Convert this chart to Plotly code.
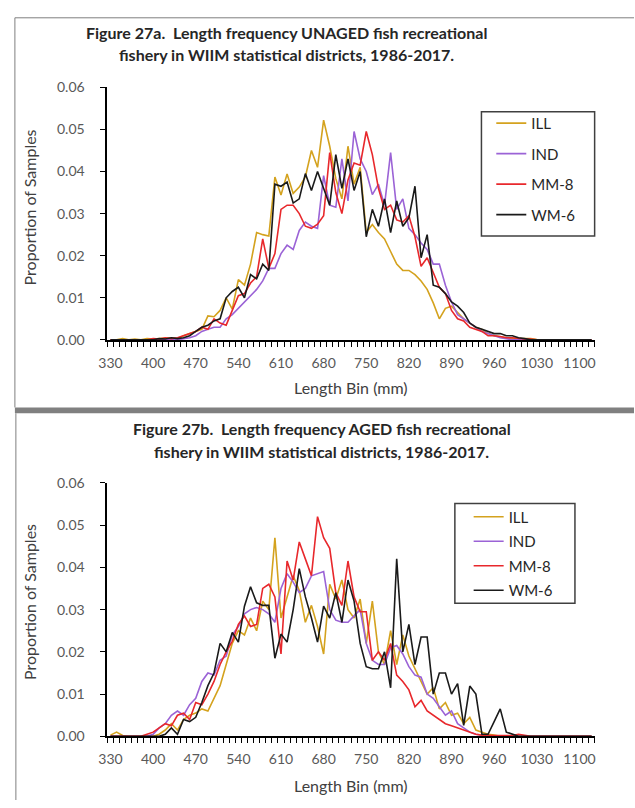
import plotly.graph_objects as go

# Length bins (mm), 10 mm wide
length_bins = list(range(330, 1130, 10))
x_ticks = list(range(330, 1101, 70))

def pad(start, vals):
    """Place values (in 0.001 units) starting at bin `start`; zeros elsewhere."""
    out = [0.0] * len(length_bins)
    i0 = length_bins.index(start)
    for k, v in enumerate(vals):
        out[i0 + k] = v / 1000.0
    return out

# ---- Figure 27a: UNAGED fish ----
ill_unaged = pad(330, [0, 0, 0.3, 0, 0.2, 0, 0.3, 0.2, 0.3, 0.4, 0.5, 0.3,
                       1.0, 1.5, 2.0, 2.5, 5.7, 5.5, 7, 10, 7.3, 14.3, 13, 18, 25.5, 25, 24.7,
                       38.7, 34.4, 39.4, 34.8, 36.3, 38.7, 45, 41, 52.2, 46, 38.3, 33.5, 46, 37,
                       41, 25.5, 27.4, 25.5, 24, 21, 18, 16.5, 16.5, 15.5, 14, 12, 8.8, 5,
                       7.5, 8, 6.5, 5, 4, 3, 2.5, 1.5, 1, 0.7, 0.5, 0.3, 0.3, 0.2, 0.3, 0.1])
ind_unaged = pad(450, [0.3, 0.5, 1, 2, 2.5, 3, 3, 5, 6, 7.5, 9, 10.5, 12, 14, 17, 17, 20.5,
                       22.5, 21.5, 26, 28, 27, 26.5, 39, 32, 31.5, 43, 33, 49.5, 43, 40, 34.5,
                       37, 32, 44.5, 31, 33.5, 26.5, 25, 23, 21.5, 18, 18, 13, 9, 6, 5, 4, 3,
                       2, 1.5, 1, 0.5, 0.3])
mm8_unaged = pad(400, [0.3, 0.2, 0.5, 0.3, 0.5,
                       1, 1.5, 2, 3, 2.5, 5, 4, 3.5, 7, 10.5, 11, 13.5, 15, 24, 17, 20.5, 31,
                       32, 32, 30, 27, 26.5, 27.5, 29.5, 44.5, 35, 30, 38, 42, 41.5, 49.5, 44,
                       36, 31, 32, 28.5, 28, 29.5, 24.5, 17.5, 19.5, 16, 12.5, 11, 7, 5, 4.5,
                       3, 2.5, 2, 1, 1, 0.8, 0.5, 0.5, 0.3, 0.2, 0.2])
wm6_unaged = pad(410, [0.3, 0.2, 0.5, 0.3,
                       0.5, 1, 2, 3, 3.5, 4.5, 5, 10, 11.5, 12.5, 10, 15.5, 14.5, 18, 16.5,
                       37, 36.5, 37.5, 32.5, 33.5, 39.5, 35.5, 40, 36, 32, 44, 36, 43, 35.5,
                       40, 24.5, 31, 27, 33.5, 25.5, 33, 27, 29, 36.5, 19.5, 25, 13, 12.5,
                       11, 9, 8, 6.5, 4, 3, 2.5, 2, 1.5, 1.5, 1, 1, 0.5, 0.3])

# ---- Figure 27b: AGED fish ----
ill_aged = pad(330, [0.3, 1.0, 0.2, 0, 0, 0, 0, 0, 0.5, 1.5, 3, 1.5, 4, 5, 5.5, 6.5, 6, 9,
                     12, 17, 22, 25, 24, 28, 25, 32, 30, 47, 28, 33, 38, 34.5, 27, 31, 26,
                     19.5, 36, 32.5, 37, 30, 28, 32.5, 22, 32, 20, 17, 25, 17, 24, 19, 16,
                     13, 10, 11.5, 6.5, 8, 5, 5.5, 3, 4.5, 1.5, 1, 0.5, 0.3])
ind_aged = pad(400, [0.5, 2, 3, 5, 6, 5, 7.5, 9, 13, 15, 14.5, 18, 19, 24, 26, 29, 30, 30.5,
                     30, 29, 27, 35, 38.5, 36.5, 34, 35, 38, 38.5, 39, 30, 27.5, 27, 27, 28.5,
                     30, 22, 18, 17, 17, 21, 21.5, 19.5, 16.5, 14.5, 14, 10, 9, 7, 5, 6, 3,
                     2, 1, 0.5, 0.3])
mm8_aged = pad(390, [0.5, 1, 2, 3, 2.5, 5, 5.5, 4, 8, 7.5, 10, 13, 17, 20, 22.5, 26.5, 28.5,
                     26, 26.5, 35, 36, 33, 19.5, 41.5, 37, 46, 42, 38, 52, 47, 44.5, 34, 31,
                     41.5, 33, 29.5, 29.5, 18, 20, 18, 22, 14.5, 13, 11, 7, 8.5, 6, 5, 4, 3,
                     2.5, 2, 1.5, 1, 0.5, 0.3, 0.2, 0.2, 0.2, 0.2, 0.2, 0.5, 0.2])
wm6_aged = pad(420, [0.5, 2, 0.5, 4, 3.5, 4.5, 8, 12, 15, 22, 20, 24.6, 22.3, 30.8, 35.4,
                     31.6, 31, 31, 18.5, 24.2, 22.3, 30, 39.7, 33, 28, 22.3, 30.8, 28, 34,
                     27, 37, 32, 22, 16.5, 16, 16, 20, 11.5, 42, 20, 26.5, 17, 23.5,
                     23.5, 10, 15, 15, 10, 12.5, 2.6, 11.9, 10, 0.5, 0.5, 3.5, 6.5, 1, 0.5])

series_names = ["ILL", "IND", "MM-8", "WM-6"]
series_colors = ["#D4A21E", "#9B63D6", "#E8282C", "#1A1A1A"]
panel_a = [ill_unaged, ind_unaged, mm8_unaged, wm6_unaged]
panel_b = [ill_aged, ind_aged, mm8_aged, wm6_aged]

W, H = 635, 808
FONT = "Lato"

def py(px):
    return 1 - px / H

def pxx(px):
    return px / W

fig = go.Figure()

for i, (name, color) in enumerate(zip(series_names, series_colors)):
    fig.add_trace(go.Scatter(x=length_bins, y=panel_a[i], name=name, mode="lines",
                             line=dict(color=color, width=1.6),
                             xaxis="x", yaxis="y", legend="legend",
                             legendgroup=f"a{i}"))
for i, (name, color) in enumerate(zip(series_names, series_colors)):
    fig.add_trace(go.Scatter(x=length_bins, y=panel_b[i], name=name, mode="lines",
                             line=dict(color=color, width=1.6),
                             xaxis="x2", yaxis="y2", legend="legend2",
                             legendgroup=f"b{i}"))

tick_font = dict(family=FONT, size=14, color="#595959")
axis_title_font = dict(family=FONT, size=16, color="#404040")

common_x = dict(range=[325, 1125], tickmode="array", tickvals=x_ticks,
                ticktext=[str(t) for t in x_ticks], ticks="", showline=True,
                linecolor="black", linewidth=2, tickfont=tick_font, showgrid=False,
                zeroline=False, ticklabelstandoff=9,
                minor=dict(tickmode="linear", tick0=325, dtick=10, ticks="outside",
                           ticklen=5, tickwidth=1, tickcolor="black"))
common_y = dict(range=[0, 0.06], dtick=0.01, tickformat=".2f", ticks="outside",
                ticklen=5, tickwidth=1, tickcolor="black", showline=True,
                linecolor="black", linewidth=2, tickfont=tick_font, showgrid=False,
                zeroline=False, ticklabelstandoff=13)

legend_font = dict(family=FONT, size=15, color="#262626")

xdom = [pxx(100), pxx(595)]
fig.update_layout(
    width=W, height=H, margin=dict(l=0, r=0, t=0, b=0),
    paper_bgcolor="white", plot_bgcolor="white",
    xaxis=dict(domain=xdom, anchor="y", **common_x),
    yaxis=dict(domain=[py(338), py(80)], anchor="x", **common_y),
    xaxis2=dict(domain=xdom, anchor="y2", **common_x),
    yaxis2=dict(domain=[py(743), py(484)], anchor="x2", **common_y),
    legend=dict(x=pxx(490), y=py(100), xanchor="left", yanchor="top",
                borderwidth=0, bgcolor="rgba(0,0,0,0)",
                font=legend_font, tracegroupgap=8, itemwidth=30),
    legend2=dict(x=pxx(467), y=py(502), xanchor="left", yanchor="top",
                 borderwidth=0, bgcolor="rgba(0,0,0,0)",
                 font=legend_font, tracegroupgap=2, itemwidth=30),
    showlegend=True,
)

title_font = dict(family=FONT, size=16, color="#262626")
annotations = [
    dict(text="<b>Figure 27a.  Length frequency UNAGED fish recreational</b>",
         x=pxx(282), y=py(24), xref="paper", yref="paper", showarrow=False,
         font=title_font, xanchor="center", yanchor="middle"),
    dict(text="<b>fishery in WIIM statistical districts, 1986-2017.</b>",
         x=pxx(282), y=py(46), xref="paper", yref="paper", showarrow=False,
         font=title_font, xanchor="center", yanchor="middle"),
    dict(text="<b>Figure 27b.  Length frequency AGED fish recreational</b>",
         x=pxx(318), y=py(429), xref="paper", yref="paper", showarrow=False,
         font=title_font, xanchor="center", yanchor="middle"),
    dict(text="<b>fishery in WIIM statistical districts, 1986-2017.</b>",
         x=pxx(318), y=py(452), xref="paper", yref="paper", showarrow=False,
         font=title_font, xanchor="center", yanchor="middle"),
    dict(text="Proportion of Samples", x=pxx(21), y=py(203), xref="paper", yref="paper",
         showarrow=False, textangle=-90, font=axis_title_font,
         xanchor="center", yanchor="middle"),
    dict(text="Proportion of Samples", x=pxx(21), y=py(606), xref="paper", yref="paper",
         showarrow=False, textangle=-90, font=axis_title_font,
         xanchor="center", yanchor="middle"),
    dict(text="Length Bin (mm)", x=pxx(347), y=py(387), xref="paper", yref="paper",
         showarrow=False, font=axis_title_font, xanchor="center", yanchor="middle"),
    dict(text="Length Bin (mm)", x=pxx(347), y=py(793), xref="paper", yref="paper",
         showarrow=False, font=axis_title_font, xanchor="center", yanchor="middle"),
]
fig.update_layout(annotations=annotations)

# Frames around the two chart boxes, the separating band and the legend boxes
shapes = [
    dict(type="line", xref="paper", yref="paper", x0=pxx(6), x1=1.0, y0=py(9), y1=py(9),
         line=dict(color="#7F7F7F", width=1)),
    dict(type="line", xref="paper", yref="paper", x0=pxx(6), x1=pxx(6), y0=py(9), y1=py(407),
         line=dict(color="#7F7F7F", width=1)),
    dict(type="rect", xref="paper", yref="paper", x0=pxx(6), x1=1.0, y0=py(407), y1=py(413),
         fillcolor="#808080", line=dict(width=0)),
    dict(type="line", xref="paper", yref="paper", x0=pxx(7), x1=pxx(7), y0=py(413), y1=0,
         line=dict(color="#7F7F7F", width=1)),
    dict(type="rect", xref="paper", yref="paper", x0=pxx(480), x1=pxx(595),
         y0=py(232), y1=py(105), line=dict(color="#404040", width=1.5)),
    dict(type="rect", xref="paper", yref="paper", x0=pxx(453), x1=pxx(575),
         y0=py(607), y1=py(505), line=dict(color="#404040", width=1.5)),
]
fig.update_layout(shapes=shapes)

fig.write_html("out.html")
